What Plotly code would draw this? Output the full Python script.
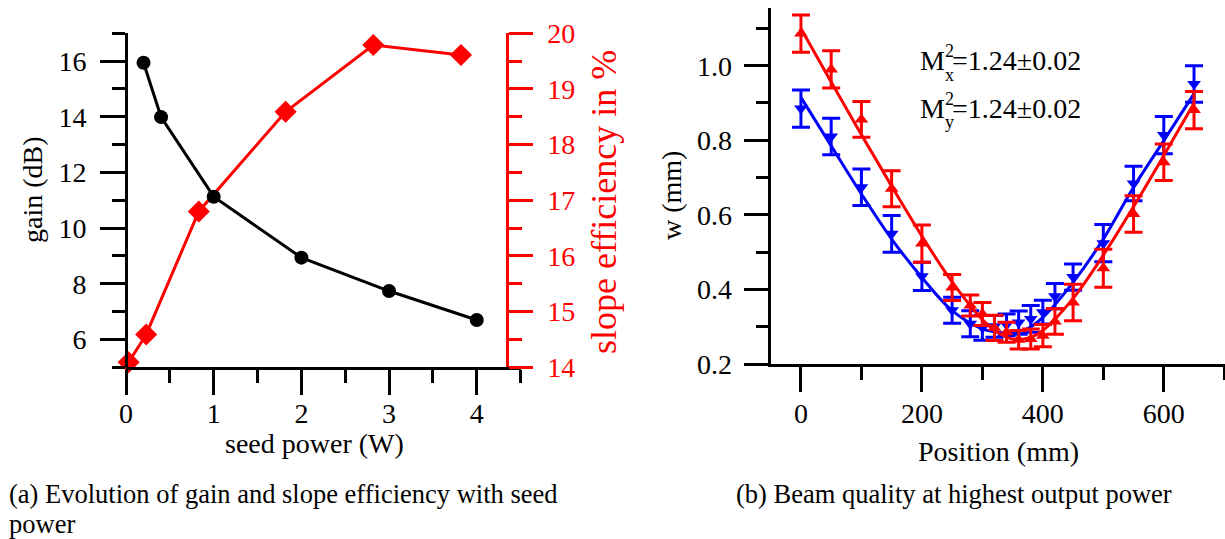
import plotly.graph_objects as go

W, H = 1225, 539


def fx(px):
    return px / W


def fy(py):
    return 1 - py / H


SERIF = "'Liberation Serif', 'Times New Roman', Times, 'DejaVu Serif', serif"
TICK_SIZE = 28
TITLE_SIZE = 28
CAPTION_SIZE = 26.5

# (a) gain and slope efficiency versus seed power
seed_power_gain = [0.2, 0.4, 1.0, 2.0, 3.0, 4.0]
gain_db = [15.94, 13.99, 11.13, 8.94, 7.74, 6.70]
seed_power_eff = [0.03, 0.23, 0.83, 1.82, 2.82, 3.82]
slope_eff = [14.09, 14.59, 16.80, 18.59, 19.79, 19.61]

# (b) beam radius along the propagation direction
position_mm = [0, 50, 100, 150, 200, 250, 280, 300, 320, 340, 360, 380, 400,
               420, 450, 500, 550, 600, 650]
wx = [1.086, 0.990, 0.856, 0.670, 0.523, 0.405, 0.357, 0.334, 0.297, 0.285,
      0.265, 0.267, 0.276, 0.314, 0.365, 0.457, 0.602, 0.741, 0.881]
wx_err = [0.050, 0.050, 0.048, 0.048, 0.050, 0.035, 0.028, 0.031, 0.034,
          0.027, 0.025, 0.027, 0.030, 0.034, 0.049, 0.051, 0.049, 0.049, 0.050]
wy = [0.885, 0.810, 0.674, 0.549, 0.435, 0.344, 0.308, 0.297, 0.301, 0.305,
      0.311, 0.321, 0.339, 0.382, 0.433, 0.524, 0.684, 0.814, 0.951]
wy_err = [0.050, 0.049, 0.049, 0.049, 0.038, 0.035, 0.035, 0.033, 0.029,
          0.029, 0.031, 0.036, 0.032, 0.034, 0.035, 0.050, 0.046, 0.050, 0.049]

# hyperbolic fit curves
fit_position = [0, 50, 100, 150, 200, 250, 300, 325, 350, 375, 400, 450, 500,
                550, 600, 650]
wx_fit = [1.100, 0.956, 0.815, 0.677, 0.543, 0.420, 0.319, 0.285, 0.267,
          0.269, 0.290, 0.376, 0.492, 0.622, 0.759, 0.899]
wy_fit = [0.915, 0.785, 0.656, 0.535, 0.432, 0.343, 0.294, 0.285, 0.283,
          0.295, 0.325, 0.419, 0.535, 0.674, 0.799, 0.925]


def axis_style(color="black", ticklen=25, minor_len=13, standoff=0):
    return dict(
        showline=True, linewidth=3, linecolor=color,
        ticks="outside", ticklen=ticklen, tickwidth=3, tickcolor=color,
        showgrid=False, zeroline=False, automargin=False,
        tickfont=dict(family=SERIF, size=TICK_SIZE, color=color),
        ticklabelstandoff=standoff,
        minor=dict(ticks="outside", ticklen=minor_len, tickwidth=3,
                   tickcolor=color, showgrid=False),
    )


fig = go.Figure()

fig.add_trace(go.Scatter(
    x=seed_power_eff, y=slope_eff, xaxis="x", yaxis="y",
    mode="lines+markers", cliponaxis=False,
    line=dict(color="#ff0000", width=3),
    marker=dict(symbol="diamond", size=17, color="#ff0000"),
    showlegend=False,
))
fig.add_trace(go.Scatter(
    x=seed_power_gain, y=gain_db, xaxis="x", yaxis="y2",
    mode="lines+markers", cliponaxis=False,
    line=dict(color="black", width=3),
    marker=dict(symbol="circle", size=14, color="black"),
    showlegend=False,
))

fig.add_trace(go.Scatter(
    x=position_mm, y=wy, xaxis="x2", yaxis="y3", mode="markers",
    cliponaxis=False,
    marker=dict(symbol="triangle-down", size=12, color="#0000ff"),
    error_y=dict(type="data", array=wy_err, color="#0000ff",
                 thickness=3, width=9),
    showlegend=False,
))
fig.add_trace(go.Scatter(
    x=fit_position, y=wy_fit, xaxis="x2", yaxis="y3", mode="lines",
    line=dict(color="#0000ff", width=3, shape="spline", smoothing=1.0),
    showlegend=False,
))
fig.add_trace(go.Scatter(
    x=position_mm, y=wx, xaxis="x2", yaxis="y3", mode="markers",
    cliponaxis=False,
    marker=dict(symbol="triangle-up", size=12, color="#ff0000"),
    error_y=dict(type="data", array=wx_err, color="#ff0000",
                 thickness=3, width=9),
    showlegend=False,
))
fig.add_trace(go.Scatter(
    x=fit_position, y=wx_fit, xaxis="x2", yaxis="y3", mode="lines",
    line=dict(color="#ff0000", width=3, shape="spline", smoothing=1.0),
    showlegend=False,
))

xa = axis_style(standoff=-6)
xa.update(domain=[fx(126), fx(520.6)], range=[0, 4.5], anchor="y",
          tick0=0, dtick=1)
xa["minor"].update(tick0=0, dtick=0.5)

ya = axis_style(color="#ff0000", ticklen=24, standoff=9)
ya.update(domain=[fy(367.3), fy(33.3)], range=[14, 20], side="right",
          anchor="free", position=fx(506.7), tick0=14, dtick=1)
ya["minor"].update(tick0=14, dtick=0.5)

ya2 = axis_style(standoff=8)
ya2.update(range=[5, 17], side="left", overlaying="y", anchor="free",
           position=fx(126), tick0=0, dtick=2)
ya2["minor"].update(tick0=5, dtick=1)

xb = axis_style(standoff=-3)
xb.update(domain=[fx(770.7), 1.0], range=[-50, 701.2], anchor="y3",
          tick0=0, dtick=200)
xb["minor"].update(tick0=0, dtick=100)

yb = axis_style(ticklen=24, minor_len=12, standoff=6)
yb.update(domain=[fy(364), fy(8.3)], range=[0.2, 1.1539], anchor="x2",
          tick0=0.2, dtick=0.2, tickformat=".1f")
yb["minor"].update(tick0=0.1, dtick=0.1)


def label(text, x, y, size=TITLE_SIZE, color="black", angle=0,
          xanchor="center", yanchor="middle"):
    return dict(text=text, x=fx(x), y=fy(y), xref="paper", yref="paper",
                showarrow=False, textangle=angle, xanchor=xanchor,
                yanchor=yanchor,
                font=dict(family=SERIF, size=size, color=color))


annotations = [
    label("gain (dB)", 33, 190, angle=-90),
    label("slope efficiency in %", 604, 202, size=36, color="#ff0000",
          angle=-90),
    label("seed power (W)", 314, 443),
    label("w (mm)", 671, 196, angle=-90),
    label("Position (mm)", 998, 451),
    # beam quality factors
    label("M", 918, 61, xanchor="left"),
    label("2", 943, 51, size=18, xanchor="left"),
    label("x", 943, 75, size=18, xanchor="left"),
    label("=1.24±0.02", 950, 61, xanchor="left"),
    label("M", 918, 109, xanchor="left"),
    label("2", 943, 99, size=18, xanchor="left"),
    label("y", 943, 122, size=18, xanchor="left"),
    label("=1.24±0.02", 950, 109, xanchor="left"),
    # captions
    label("(a) Evolution of gain and slope efficiency with seed", 7, 494,
          size=CAPTION_SIZE, xanchor="left"),
    label("power", 7, 524, size=CAPTION_SIZE, xanchor="left"),
    label("(b) Beam quality at highest output power", 954, 494,
          size=CAPTION_SIZE),
]

fig.update_layout(
    template="none",
    width=W, height=H,
    margin=dict(l=0, r=0, t=0, b=0, pad=0),
    paper_bgcolor="white", plot_bgcolor="white",
    font=dict(family=SERIF),
    xaxis=xa, yaxis=ya, yaxis2=ya2, xaxis2=xb, yaxis3=yb,
    annotations=annotations,
    showlegend=False,
)

fig.write_html("out.html")
